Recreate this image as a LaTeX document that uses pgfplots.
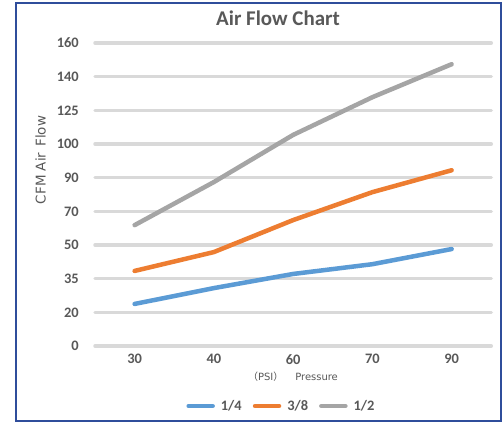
\documentclass[border=0pt]{standalone}
\usepackage{pgfplots}
\pgfplotsset{compat=1.18}
\usepackage{fontspec}
\setmainfont{Carlito}
\newfontfamily\gothic{DejaVu Sans}
\newfontfamily\cjk{Noto Sans CJK JP}
\definecolor{txt}{HTML}{595959}
\definecolor{gridc}{HTML}{D9D9D9}
\definecolor{sblue}{HTML}{5B9BD5}
\definecolor{sorange}{HTML}{ED7D31}
\definecolor{sgray}{HTML}{A5A5A5}
\definecolor{frame}{RGB}{47,77,155}
\begin{document}
\begin{tikzpicture}[x=1bp,y=1bp]
\useasboundingbox (0,0) rectangle (503,423);
\fill[white] (0,0) rectangle (503,423);
\draw[frame, line width=2bp] (16,2) rectangle (500.5,420);
% title and axis titles
\node[txt, font=\fontsize{21}{24}\selectfont\bfseries] at (278,405) {Air Flow Chart};
\node[txt, rotate=90, font=\gothic\fontsize{13.5}{15}\selectfont] at (40.5,263) {CFM Air\hspace{6bp}Flow};
\node[txt, font=\gothic\fontsize{10}{12}\selectfont] at (293,46) {{\cjk （}PSI{\cjk ）}\hspace{12bp}Pressure};
\begin{axis}[
    at={(95bp,77bp)}, anchor=south west,
    scale only axis, width=396.25bp, height=303bp,
    xmin=-0.5, xmax=4.5, ymin=0, ymax=9,
    clip=false,
    axis line style={draw=none},
    major tick length=0pt,
    xtick={0,1,2,3,4}, xticklabels={30,40,60,70,90},
    ytick={0,...,9}, yticklabels={0,20,35,50,70,90,100,125,140,160},
    ymajorgrids, major grid style={gridc, line width=3.5bp, line cap=round},
    ticklabel style={txt, font=\fontsize{14.5}{16}\selectfont\bfseries, inner sep=0pt},
    xticklabel style={anchor=north, yshift=-8bp},
    yticklabel style={anchor=east, xshift=-16bp},
    /pgf/number format/assume math mode=true,
    every axis plot/.append style={line width=4.5bp, line cap=round, line join=round, mark=none},
    legend columns=3,
    legend style={at={(0.468,-0.198)}, anchor=center, draw=none, fill=none,
        font=\fontsize{14.5}{16}\selectfont\bfseries, text=txt,
        nodes={inner sep=0pt},
        /tikz/every odd column/.append style={column sep=6bp},
        /tikz/every even column/.append style={column sep=11bp}},
    legend image code/.code={\draw[line width=4.5bp, line cap=round] (0bp,0bp) -- (24bp,0bp);},
]
\addplot[sblue] coordinates {(0,1.25) (1,1.72) (2,2.14) (3,2.43) (4,2.88)};
\addlegendentry{1/4}
\addplot[sorange] coordinates {(0,2.23) (1,2.79) (2,3.74) (3,4.57) (4,5.22)};
\addlegendentry{3/8}
\addplot[sgray] coordinates {(0,3.59) (1,4.87) (2,6.27) (3,7.39) (4,8.37)};
\addlegendentry{1/2}
\end{axis}
\end{tikzpicture}
\end{document}
